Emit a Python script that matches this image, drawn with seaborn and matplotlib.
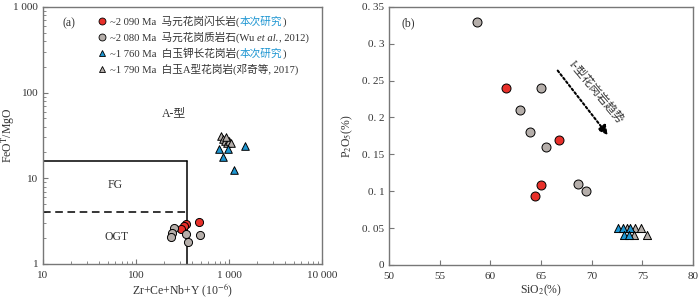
import numpy as np
import pandas as pd
import matplotlib
matplotlib.use("Agg")
import matplotlib.pyplot as plt
import seaborn as sns
from matplotlib.lines import Line2D
from matplotlib.ticker import FixedLocator, FixedFormatter, LogLocator, NullFormatter

# --- data ---
# (a) Zr+Ce+Nb+Y vs FeOT/MgO
mayuan_gd_zr = [472, 345, 328, 308]
mayuan_gd_fm = [3.1, 2.95, 2.8, 2.55]
mayuan_wu_zr = [256, 244, 236, 345, 365, 491]
mayuan_wu_fm = [2.6, 2.27, 2.04, 2.21, 1.79, 2.16]
baiyu_kf_zr = [787, 968, 855, 1497, 1132]
baiyu_kf_fm = [22.1, 22.1, 17.7, 23.6, 12.4]
baiyu_a_zr = [820, 870, 905, 950, 1000, 1060, 930]
baiyu_a_fm = [31.5, 29.0, 27.5, 25.5, 27.0, 26.0, 30.0]

# (b) SiO2 vs P2O5
mayuan_gd_si = [61.5, 66.8, 65.0, 64.4]
mayuan_gd_p = [0.24, 0.17, 0.108, 0.093]
mayuan_wu_si = [58.7, 65.0, 62.9, 63.9, 65.5, 68.7, 69.4]
mayuan_wu_p = [0.33, 0.24, 0.21, 0.18, 0.16, 0.11, 0.10]
baiyu_kf_si = [72.6, 73.1, 73.8, 73.2, 73.7]
baiyu_kf_p = [0.05, 0.05, 0.05, 0.04, 0.04]
baiyu_a_si = [73.5, 74.3, 74.9, 74.2, 75.5]
baiyu_a_p = [0.05, 0.05, 0.05, 0.04, 0.04]

# Whalen et al. field boundaries
zr_limit = 350
fm_a_limit = 16
fm_fg_limit = 4

sns.set_style("ticks")
plt.rcParams['font.family'] = ['Liberation Serif', 'Noto Sans CJK SC']
plt.rcParams['mathtext.fontset'] = 'stix'
plt.rcParams['axes.unicode_minus'] = False

RED = '#e8302a'
GRAY = '#b5aeaa'
BLUE = '#1e96d2'
TXT = '#333333'
SPINE = '#777777'

groups = [
    ('gd', RED, 'o', mayuan_gd_zr, mayuan_gd_fm, mayuan_gd_si, mayuan_gd_p),
    ('wu', GRAY, 'o', mayuan_wu_zr, mayuan_wu_fm, mayuan_wu_si, mayuan_wu_p),
    ('a', GRAY, '^', baiyu_a_zr, baiyu_a_fm, baiyu_a_si, baiyu_a_p),
    ('kf', BLUE, '^', baiyu_kf_zr, baiyu_kf_fm, baiyu_kf_si, baiyu_kf_p),
]

fig = plt.figure(figsize=(7, 3.01), dpi=100)
ax1 = fig.add_axes([0.0614, 0.123, 0.3986, 0.854])
ax2 = fig.add_axes([0.5557, 0.12, 0.4343, 0.857])

for name, col, mk, zr, fm, si, p in groups:
    da = pd.DataFrame({'zr': zr, 'fm': fm})
    sns.scatterplot(data=da, x='zr', y='fm', ax=ax1, color=col, marker=mk,
                    s=34 if mk == 'o' else 30, edgecolor='black', linewidth=0.7, zorder=3)
    db = pd.DataFrame({'si': si, 'p': p})
    sns.scatterplot(data=db, x='si', y='p', ax=ax2, color=col, marker=mk,
                    s=42 if mk == 'o' else 34, edgecolor='black', linewidth=0.7, zorder=3)

# ---- panel (a) ----
ax1.set_xscale('log')
ax1.set_yscale('log')
ax1.set_xlim(10, 10000)
ax1.set_ylim(1, 1000)
ax1.plot([10, zr_limit], [fm_a_limit, fm_a_limit], color='black', lw=1.1)
ax1.plot([zr_limit, zr_limit], [1, fm_a_limit], color='black', lw=1.1)
ax1.plot([10, zr_limit], [fm_fg_limit, fm_fg_limit], color='black', lw=1.1, ls=(0, (5, 3)))

ax1.xaxis.set_major_locator(FixedLocator([10, 100, 1000, 10000]))
ax1.xaxis.set_major_formatter(FixedFormatter(['10', '100', '1 000', '10 000']))
ax1.yaxis.set_major_locator(FixedLocator([1, 10, 100, 1000]))
ax1.yaxis.set_major_formatter(FixedFormatter(['1', '10', '100', '1 000']))
for axis in (ax1.xaxis, ax1.yaxis):
    axis.set_minor_locator(LogLocator(base=10, subs=np.arange(2, 10)))
    axis.set_minor_formatter(NullFormatter())

ax1.set_xlabel('Zr+Ce+Nb+Y (10$^{-6}$)', fontsize=8.5, color=TXT, labelpad=1)
ax1.set_ylabel('FeO$^{\\rm T}$/MgO', fontsize=8.5, color=TXT)
ax1.yaxis.set_label_coords(-0.093, 0.5)
ax1.text(256, 58, 'A-型', fontsize=8.5, color=TXT, ha='center', va='center')
ax1.text(60, 8.3, 'FG', fontsize=8.5, color=TXT, ha='center', va='center')
ax1.text(62, 2.05, 'OGT', fontsize=8.5, color=TXT, ha='center', va='center')
ax1.text(0.07, 0.96, '(a)', transform=ax1.transAxes, fontsize=8.5, color=TXT, va='top')

# legend
handles = [
    Line2D([], [], ls='', marker='o', ms=5, mfc=RED, mec='black', mew=0.6),
    Line2D([], [], ls='', marker='o', ms=5, mfc=GRAY, mec='black', mew=0.6),
    Line2D([], [], ls='', marker='^', ms=5, mfc=BLUE, mec='black', mew=0.6),
    Line2D([], [], ls='', marker='^', ms=5, mfc=GRAY, mec='black', mew=0.6),
]
labels = [
    '~2 090 Ma  马元花岗闪长岩(',
    '~2 080 Ma  马元花岗质岩石(Wu ',
    '~1 760 Ma  白玉钾长花岗岩(',
    '~1 790 Ma  白玉A型花岗岩(邓奇等, 2017)',
]
leg = ax1.legend(handles, labels, loc='upper left', bbox_to_anchor=(0.165, 1.0),
                 frameon=False, fontsize=7.7, handlelength=0.8, handletextpad=0.4,
                 labelspacing=0.42, borderaxespad=0.4)
for t in leg.get_texts():
    t.set_color(TXT)
fig.canvas.draw()
for idx in (0, 2):
    txt = leg.get_texts()[idx]
    a = ax1.annotate('本次研究', xy=(1, 0), xycoords=txt, va='bottom', ha='left',
                     fontsize=7.7, color=BLUE)
    ax1.annotate(')', xy=(1, 0), xycoords=a, va='bottom', ha='left',
                 fontsize=7.7, color=TXT)
wu_txt = leg.get_texts()[1]
it = ax1.annotate('et al.', xy=(1, 0), xycoords=wu_txt, va='bottom', ha='left',
                  fontsize=7.7, color=TXT, fontstyle='italic')
ax1.annotate(', 2012)', xy=(1, 0), xycoords=it, va='bottom', ha='left',
             fontsize=7.7, color=TXT)

# ---- panel (b) ----
ax2.set_xlim(50, 80)
ax2.set_ylim(0, 0.35)
yt = [0, 0.05, 0.1, 0.15, 0.2, 0.25, 0.3, 0.35]
ax2.yaxis.set_major_locator(FixedLocator(yt))
ax2.yaxis.set_major_formatter(FixedFormatter(['0', '0. 05', '0. 1', '0. 15', '0. 2', '0. 25', '0. 3', '0. 35']))
ax2.xaxis.set_major_locator(FixedLocator([50, 55, 60, 65, 70, 75, 80]))
ax2.set_xlabel('SiO$_2$(%)', fontsize=8.5, color=TXT, labelpad=1)
ax2.set_ylabel('P$_2$O$_5$(%)', fontsize=8.5, color=TXT)
ax2.yaxis.set_label_coords(-0.113, 0.5)
ax2.text(0.04, 0.96, '(b)', transform=ax2.transAxes, fontsize=8.5, color=TXT, va='top')

arrow_start = (66.65, 0.2636)
arrow_end = (71.6, 0.176)
ax2.annotate('', xy=arrow_end, xytext=arrow_start,
             arrowprops=dict(arrowstyle='-|>', color='black', lw=1.5,
                             ls=(0, (1, 1.2)), mutation_scale=14, shrinkA=0, shrinkB=0))
ax2.text(70.45, 0.235, 'I-型花岗岩趋势', rotation=-50, rotation_mode='anchor',
         fontsize=8.5, color=TXT, ha='center', va='center')

for ax in (ax1, ax2):
    for sp in ax.spines.values():
        sp.set_visible(True)
        sp.set_color(SPINE)
        sp.set_linewidth(1.0)
    ax.tick_params(which='both', direction='in', color=SPINE, labelsize=8,
                   labelcolor=TXT, top=False, right=False)
    ax.tick_params(which='major', length=3.5)
    ax.tick_params(which='minor', length=2)
    ax.set_facecolor('white')

ax2.tick_params(axis='x', pad=5)
ax1.tick_params(axis='x', pad=5)

fig.savefig('out.png', dpi=100, facecolor='white')
